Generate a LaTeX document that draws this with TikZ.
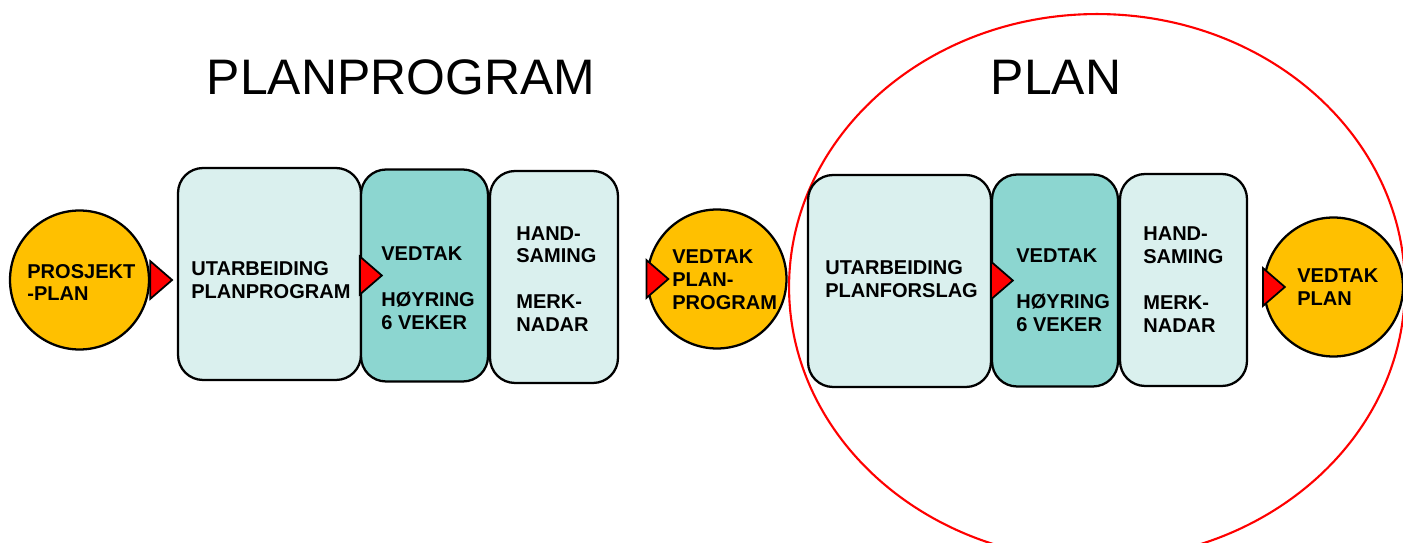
\documentclass[tikz,border=0pt]{standalone}
\usepackage{fontspec}
\setmainfont{Liberation Sans}
\usetikzlibrary{positioning}
\definecolor{gold}{HTML}{FFC000}
\definecolor{paleteal}{HTML}{DAF0EE}
\definecolor{midteal}{HTML}{8CD6D0}
\tikzset{
  disc/.style={circle, draw, fill=gold, line width=1.3pt, minimum size=2.78cm, inner sep=0pt},
  stage/.style={draw, rounded corners=0.5cm, fill=paleteal, line width=1.3pt, minimum height=4.24cm},
  hearing/.style={stage, fill=midteal},
  pointer/.style={draw=black, fill=red, line width=1pt, line join=miter},
  txt/.style={align=left, anchor=west, inner sep=0pt, font=\bfseries\fontsize{11.4}{13.04}\selectfont},
  title/.style={inner sep=0pt, font=\fontsize{28.4}{32}\selectfont}
}
\newcommand{\redtip}[1]{\draw[pointer] (#1) ++(0,-19) -- ++(22,19) -- ++(-22,19) -- cycle;}

\begin{document}
\begin{tikzpicture}[x=0.02cm, y=-0.02cm]
    \clip (0,0) rectangle (1403,543);
    \draw[red, line width=1.2pt] (1097,287) ellipse [x radius=6.16cm, y radius=5.46cm];
    \node[title] (tprog) at (401,77) {PLANPROGRAM};
    \node[title] (tplan) at (1056,77) {PLAN};
    % planprogram
    \node[disc] (c0) at (79.5,280) {};
    \node[stage, minimum width=3.66cm] (ut1) at (269.5,274) {};
    \node[hearing, minimum width=2.54cm] (hr1) at (424.5,275.5) {};
    \node[stage, minimum width=2.56cm] (hs1) at (554,277) {};
    \node[disc] (c1) at (717,279) {};
    % plan
    \node[stage, minimum width=3.66cm] (ut2) at (899.5,281) {};
    \node[hearing, minimum width=2.52cm] (hr2) at (1055,280.5) {};
    \node[stage, minimum width=2.54cm] (hs2) at (1183.5,280) {};
    \node[disc] (c2) at (1333.5,287) {};
    % texts
    \node[txt] (x0) at (27,282.5) {PROSJEKT\\-PLAN};
    \node[txt] (x1) at (191,280.5) {UTARBEIDING\\PLANPROGRAM};
    \node[txt] (x2) at (381,288) {VEDTAK\\[\baselineskip]HØYRING\\6 VEKER};
    \node[txt] (x3) at (516,279) {HAND-\\SAMING\\[\baselineskip]MERK-\\NADAR};
    \node[txt] (x4) at (672,279.5) {VEDTAK\\PLAN-\\PROGRAM};
    \node[txt] (x5) at (825,279) {UTARBEIDING\\PLANFORSLAG};
    \node[txt] (x6) at (1016,290) {VEDTAK\\[\baselineskip]HØYRING\\6 VEKER};
    \node[txt] (x7) at (1143,279.5) {HAND-\\SAMING\\[\baselineskip]MERK-\\NADAR};
    \node[txt] (x8) at (1297,287.5) {VEDTAK\\PLAN};
    % markers
    \redtip{c0.east}
    \redtip{hr1.west}
    \redtip{c1.west}
    \redtip{hr2.west}
    \redtip{c2.west}
\end{tikzpicture}
\end{document}
